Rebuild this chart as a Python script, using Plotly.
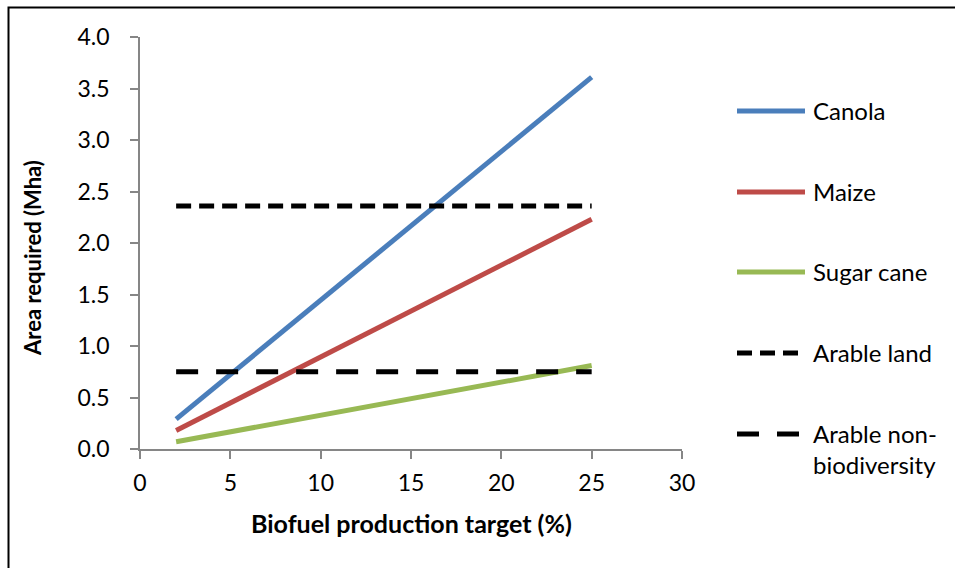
import plotly.graph_objects as go

# Biofuel production target (%) at the ends of each scenario line
target = [2, 25]

# Area required (Mha)
canola = [0.29, 3.61]
maize = [0.18, 2.23]
sugar_cane = [0.07, 0.81]
arable_land = [2.36, 2.36]
arable_non_biodiversity = [0.75, 0.75]

series_names = ["Canola", "Maize", "Sugar cane", "Arable land", "Arable non-<br>biodiversity"]
series_values = [canola, maize, sugar_cane, arable_land, arable_non_biodiversity]
colors = ["#4A7EBB", "#BE4B48", "#98B954", "#000000", "#000000"]
dashes = ["solid", "solid", "solid", "15px,8px", "22px,18px"]

x_ticks = [0, 5, 10, 15, 20, 25, 30]
y_ticks = [0.0, 0.5, 1.0, 1.5, 2.0, 2.5, 3.0, 3.5, 4.0]

FONT = "Lato"
W, H = 955, 568
L, R, T, B = 140, 273, 37, 119
plot_w = W - L - R
plot_h = H - T - B
LINE_W = 5


def px_to_paper_x(px):
    return (px - L) / plot_w


def px_to_paper_y(py):
    return (H - B - py) / plot_h


fig = go.Figure()

for name, vals, col, dash in zip(series_names, series_values, colors, dashes):
    fig.add_trace(go.Scatter(
        x=target, y=vals, mode="lines", name=name.replace("<br>", ""),
        line=dict(color=col, width=LINE_W, dash=dash),
        showlegend=False, hoverinfo="skip",
    ))

# Legend drawn at the right of the plot area
legend_y = [111, 192, 272, 353, 434]
shapes = []
annotations = []
for name, col, dash, ly in zip(series_names, colors, dashes, legend_y):
    shapes.append(dict(
        type="line", xref="paper", yref="paper",
        x0=px_to_paper_x(737), x1=px_to_paper_x(805),
        y0=px_to_paper_y(ly), y1=px_to_paper_y(ly),
        line=dict(color=col, width=LINE_W, dash=dash),
    ))
    annotations.append(dict(
        xref="paper", yref="paper", x=px_to_paper_x(811),
        y=px_to_paper_y(ly - 17), xanchor="left", yanchor="top",
        text=name, showarrow=False, align="left",
        font=dict(family=FONT, size=24, color="#000000"),
    ))

# Chart frame
shapes.append(dict(
    type="rect", xref="paper", yref="paper",
    x0=px_to_paper_x(8.5), x1=px_to_paper_x(W + 20),
    y0=px_to_paper_y(H + 20), y1=px_to_paper_y(7.5),
    line=dict(color="#000000", width=2), fillcolor="rgba(0,0,0,0)", layer="below",
))

# Axis titles
annotations.append(dict(
    xref="paper", yref="paper", x=px_to_paper_x(32), y=px_to_paper_y(258),
    text="<b>Area required (Mha)</b>", textangle=-90, showarrow=False,
    xanchor="center", yanchor="middle",
    font=dict(family=FONT, size=22, color="#000000"),
))
annotations.append(dict(
    xref="paper", yref="paper", x=px_to_paper_x(411), y=px_to_paper_y(523),
    text="<b>Biofuel production target (%)</b>", showarrow=False,
    xanchor="center", yanchor="middle",
    font=dict(family=FONT, size=25, color="#000000"),
))

axis_common = dict(
    showgrid=False, zeroline=False, showline=True, linecolor="#868686", linewidth=1.5,
    ticks="outside", ticklen=8, tickcolor="#868686", tickwidth=1.5,
    tickfont=dict(family=FONT, size=23, color="#000000"),
)

fig.update_layout(
    width=W, height=H,
    margin=dict(l=L, r=R, t=T, b=B),
    paper_bgcolor="#FFFFFF", plot_bgcolor="#FFFFFF",
    xaxis=dict(range=[0, 30], tickvals=x_ticks, ticktext=[str(v) for v in x_ticks],
               ticklabelstandoff=5, **axis_common),
    yaxis=dict(range=[0, 4], tickvals=y_ticks, ticktext=[f"{v:.1f}" for v in y_ticks],
               ticklabelstandoff=16, **axis_common),
    shapes=shapes, annotations=annotations,
)

fig.write_html("out.html")
